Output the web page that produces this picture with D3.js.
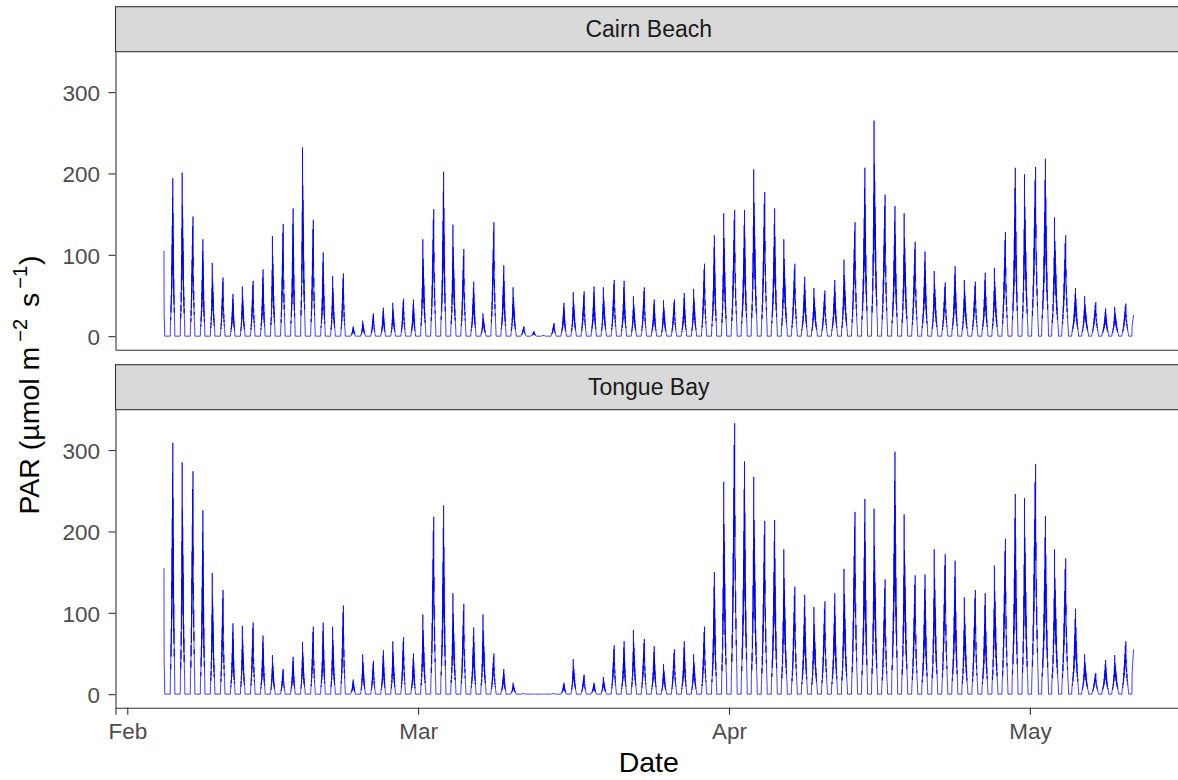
<!DOCTYPE html>
<html>
<head>
<meta charset="utf-8">
<script src="https://cdn.jsdelivr.net/npm/d3@7"></script>
<style>
  body { margin: 0; background: #fff; }
  text { font-family: "Liberation Sans", Arial, sans-serif; }
</style>
</head>
<body>
<svg width="1178" height="780"></svg>
<script>
var sites = ["Cairn Beach", "Tongue Bay"];

// daily maximum PAR, one value per day from Feb 5 to May 10 2020
var firstDay = "2020-02-05T00:00:00Z";
var cairnPeaks = [
  194, 201, 147, 119, 90, 72, 52, 61, 68, 82, 123, 138, 157, 232, 143, 103, 74, 77, 12, 19, 28, 35, 41, 46, 45,
  119, 156, 202, 137, 107, 67, 28, 140, 87, 60, 12, 6, 1, 16, 41, 54, 55, 61, 60, 69, 68, 49, 60, 45, 44, 45, 53, 58, 89, 124, 151,
  155, 155, 205, 177, 157, 119, 89, 73, 59, 56, 69, 94, 140, 207, 265, 174, 160, 151, 116, 104, 80, 66, 86, 69, 67, 78, 84, 128, 207, 199,
  208, 218, 146, 124, 59, 49, 42, 34, 36, 40
];
var tonguePeaks = [
  309, 285, 274, 226, 149, 128, 87, 84, 88, 72, 48, 31, 46, 64, 83, 88, 83, 109, 18, 49, 41, 54, 65, 70, 50,
  98, 218, 232, 124, 111, 82, 98, 50, 31, 14, 1, 0, 0, 1, 14, 43, 24, 14, 21, 60, 65, 79, 68, 59, 37, 55, 65, 49, 83, 150, 261,
  333, 286, 267, 213, 214, 178, 132, 122, 107, 114, 124, 154, 224, 240, 228, 141, 298, 221, 146, 147, 178, 172, 164, 119, 128, 124, 158, 191, 246, 241,
  283, 219, 178, 167, 105, 49, 26, 42, 48, 65
];
// logger started in the afternoon of Feb 4 and stopped in the morning of May 11
var startTime = "2020-02-04T15:50:00Z";
var endTime = "2020-05-11T08:00:00Z";
var firstReading = [105, 155];
var lastReading = [26, 55];

// hours with light (Feb, Mar, Apr, May) and the shape of a day, as a share of its peak
var daylightHours = [11, 12.5, 14.5, 16.5];
var solarNoon = 12.3;
var dayProfiles = [
  [0, 0.06, 0.09, 0.12, 0.1, 0.16, 0.2, 0.15, 0.26, 0.2, 0.34, 0.25, 0.45, 0.3, 0.58, 0.38, 0.7, 0.42, 0.88, 0.5, 1.0, 0.55, 0.78, 0.4, 0.62, 0.32, 0.48, 0.25, 0.36, 0.2, 0.26, 0.15, 0.18, 0.12, 0.09, 0.06, 0],
  [0, 0.07, 0.1, 0.14, 0.11, 0.19, 0.15, 0.27, 0.21, 0.38, 0.28, 0.5, 0.35, 0.66, 0.44, 1.0, 0.52, 0.8, 0.46, 0.72, 0.4, 0.6, 0.34, 0.52, 0.28, 0.4, 0.22, 0.3, 0.18, 0.24, 0.14, 0.17, 0.11, 0.1, 0.08, 0.05, 0],
  [0, 0.05, 0.08, 0.11, 0.15, 0.12, 0.22, 0.17, 0.3, 0.23, 0.4, 0.3, 0.52, 0.36, 0.64, 0.45, 0.76, 0.5, 0.92, 0.6, 0.7, 1.0, 0.58, 0.66, 0.42, 0.5, 0.3, 0.38, 0.24, 0.28, 0.18, 0.2, 0.13, 0.11, 0.08, 0.05, 0]
];

var xTickDates = ["2020-02-01", "2020-03-01", "2020-04-01", "2020-05-01"];
var xTickLabels = ["Feb", "Mar", "Apr", "May"];
var yTicks = [0, 100, 200, 300];

var svg = d3.select("svg");
var left = 115.5, right = 1182;
var stripTop = 6.7, stripH = 45, panelH = 298, gap = 15;
var lineCol = "#333333";

function at(day, h) { return new Date(day.getTime() + h * 3600e3); }
function lit(day) { return daylightHours[day.getUTCMonth() - 1]; }

var t0 = d3.isoParse(startTime), t1 = d3.isoParse(endTime);
var d0 = d3.isoParse(firstDay);
var days = d3.utcDay.range(d0, d3.utcDay.offset(d0, cairnPeaks.length));

function buildSeries(peaks, i) {
  var pts = [];
  var firstD = d3.utcDay.floor(t0);
  pts.push([t0, firstReading[i]]);
  pts.push([new Date(+t0 + 20 * 60e3), firstReading[i] * 0.27]);
  pts.push([at(firstD, solarNoon + lit(firstD) / 2), 0]);
  days.forEach(function(day, k) {
    var L = lit(day), rise = solarNoon - L / 2;
    var prof = dayProfiles[k % dayProfiles.length];
    prof.forEach(function(f, j) {
      pts.push([at(day, rise + L * j / (prof.length - 1)), peaks[k] * f]);
    });
  });
  var lastD = d3.utcDay.floor(t1), rise = solarNoon - lit(lastD) / 2;
  pts.push([at(lastD, rise), 0]);
  pts.push([at(lastD, rise + 0.5), lastReading[i] * 0.45]);
  pts.push([t1, lastReading[i]]);
  return pts;
}

var series = [buildSeries(cairnPeaks, 0), buildSeries(tonguePeaks, 1)];

var span = t1 - t0;
var x = d3.scaleUtc()
    .domain([new Date(+t0 - 0.05 * span), new Date(+t1 + 0.05 * span)])
    .range([left, right]);

var ymax = d3.max(series, function(s) { return d3.max(s, function(p) { return p[1]; }); });

sites.forEach(function(site, i) {
  var sTop = stripTop + i * (stripH + panelH + gap);
  var pTop = sTop + stripH, pBot = pTop + panelH;
  var y = d3.scaleLinear()
      .domain([-0.05 * ymax, 1.05 * ymax])
      .range([pBot, pTop]);

  var line = d3.line()
      .x(function(d) { return x(d[0]); })
      .y(function(d) { return y(d[1]); });

  svg.append("path")
      .datum(series[i])
      .attr("fill", "none")
      .attr("stroke", "#0000ff")
      .attr("stroke-width", 0.75)
      .attr("stroke-linejoin", "round")
      .attr("d", line);

  // strip
  svg.append("rect")
      .attr("x", left)
      .attr("y", sTop)
      .attr("width", right - left + 20)
      .attr("height", stripH)
      .attr("fill", "#d9d9d9")
      .attr("stroke", lineCol)
      .attr("stroke-width", 1.1);
  svg.append("text")
      .attr("x", (left + right) / 2)
      .attr("y", sTop + stripH / 2 + 8)
      .attr("text-anchor", "middle")
      .attr("font-size", 23)
      .attr("fill", "#1a1a1a")
      .text(site);

  // y axis
  var ya = svg.append("g")
      .attr("transform", "translate(" + left + ",0)")
      .call(d3.axisLeft(y).tickValues(yTicks).tickSize(7).tickSizeOuter(0).tickPadding(8.5));
  ya.selectAll("text").attr("dy", "0.37em");

  // x axis
  var xa = d3.axisBottom(x).tickSizeOuter(0);
  if (i === sites.length - 1) {
    xa.tickValues(xTickDates.map(function(d) { return d3.isoParse(d + "T00:00:00Z"); }))
      .tickFormat(function(d, k) { return xTickLabels[k]; })
      .tickSize(7).tickPadding(8.6);
  } else {
    xa.tickValues([]);
  }
  svg.append("g")
      .attr("transform", "translate(0," + pBot + ")")
      .call(xa);
});

svg.selectAll(".domain, .tick line")
    .attr("stroke", lineCol)
    .attr("stroke-width", 1.1);
svg.selectAll(".tick text")
    .attr("fill", "#4d4d4d")
    .attr("font-size", 22.5)
    .attr("font-family", "Liberation Sans, Arial, sans-serif");

// axis titles
svg.append("text")
    .attr("x", (left + right) / 2)
    .attr("y", 772)
    .attr("text-anchor", "middle")
    .attr("font-size", 28.5)
    .text("Date");

var yt = svg.append("text")
    .attr("transform", "translate(39,385) rotate(-90)")
    .attr("text-anchor", "middle")
    .attr("font-size", 28.5);
yt.append("tspan").text("PAR (\u00b5mol m");
yt.append("tspan").attr("dx", 5).attr("dy", -12).attr("font-size", 20).text("\u22122");
yt.append("tspan").attr("dx", 4).attr("dy", 12).text(" s");
yt.append("tspan").attr("dx", 4).attr("dy", -12).attr("font-size", 20).text("\u22121");
yt.append("tspan").attr("dx", 1).attr("dy", 12).text(")");
</script>
</body>
</html>
